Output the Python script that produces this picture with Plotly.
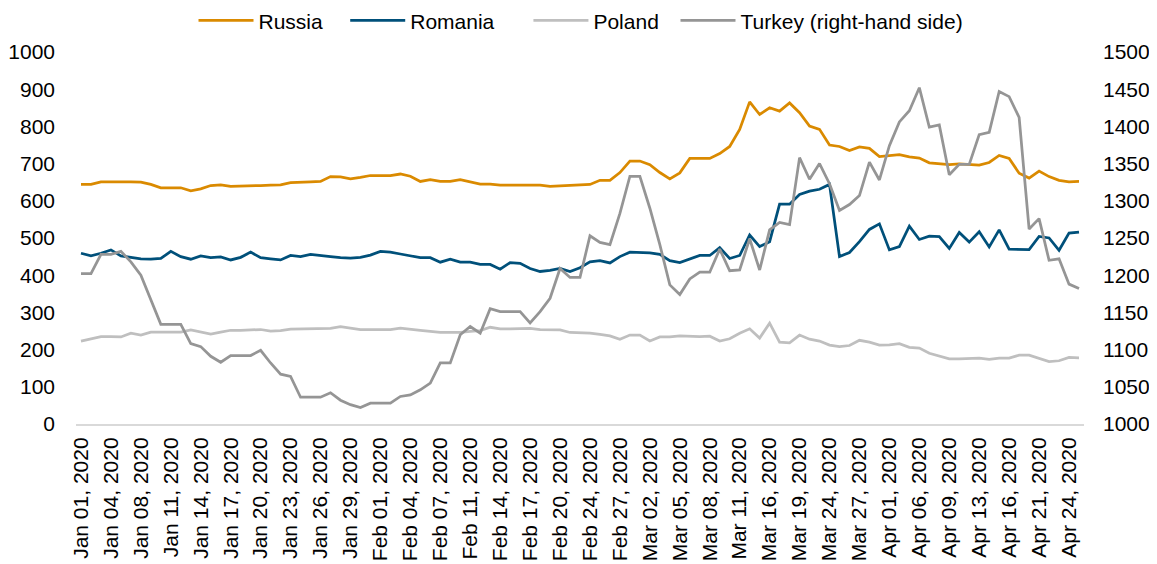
import plotly.graph_objects as go

# trading days shown on the category axis (every third one is labelled)
dates = [
    "Jan 01, 2020", "Jan 02, 2020", "Jan 03, 2020", "Jan 04, 2020", "Jan 06, 2020",
    "Jan 07, 2020", "Jan 08, 2020", "Jan 09, 2020", "Jan 10, 2020", "Jan 11, 2020",
    "Jan 12, 2020", "Jan 13, 2020", "Jan 14, 2020", "Jan 15, 2020", "Jan 16, 2020",
    "Jan 17, 2020", "Jan 18, 2020", "Jan 19, 2020", "Jan 20, 2020", "Jan 21, 2020",
    "Jan 22, 2020", "Jan 23, 2020", "Jan 24, 2020", "Jan 25, 2020", "Jan 26, 2020",
    "Jan 27, 2020", "Jan 28, 2020", "Jan 29, 2020", "Jan 30, 2020", "Jan 31, 2020",
    "Feb 01, 2020", "Feb 02, 2020", "Feb 03, 2020", "Feb 04, 2020", "Feb 05, 2020",
    "Feb 06, 2020", "Feb 07, 2020", "Feb 09, 2020", "Feb 10, 2020", "Feb 11, 2020",
    "Feb 12, 2020", "Feb 13, 2020", "Feb 14, 2020", "Feb 15, 2020", "Feb 16, 2020",
    "Feb 17, 2020", "Feb 18, 2020", "Feb 19, 2020", "Feb 20, 2020", "Feb 21, 2020",
    "Feb 23, 2020", "Feb 24, 2020", "Feb 25, 2020", "Feb 26, 2020", "Feb 27, 2020",
    "Feb 28, 2020", "Mar 01, 2020", "Mar 02, 2020", "Mar 03, 2020", "Mar 04, 2020",
    "Mar 05, 2020", "Mar 06, 2020", "Mar 07, 2020", "Mar 08, 2020", "Mar 09, 2020",
    "Mar 10, 2020", "Mar 11, 2020", "Mar 13, 2020", "Mar 15, 2020", "Mar 16, 2020",
    "Mar 17, 2020", "Mar 18, 2020", "Mar 19, 2020", "Mar 20, 2020", "Mar 23, 2020",
    "Mar 24, 2020", "Mar 25, 2020", "Mar 26, 2020", "Mar 27, 2020", "Mar 30, 2020",
    "Mar 31, 2020", "Apr 01, 2020", "Apr 02, 2020", "Apr 03, 2020", "Apr 06, 2020",
    "Apr 07, 2020", "Apr 08, 2020", "Apr 09, 2020", "Apr 10, 2020", "Apr 12, 2020",
    "Apr 13, 2020", "Apr 14, 2020", "Apr 15, 2020", "Apr 16, 2020", "Apr 17, 2020",
    "Apr 20, 2020", "Apr 21, 2020", "Apr 22, 2020", "Apr 23, 2020", "Apr 24, 2020",
    "Apr 27, 2020",
]

russia = [
    644, 644, 651, 651, 653, 651, 650, 644, 635, 635,
    635, 627, 632, 641, 643, 639, 639, 639, 641, 642,
    643, 649, 651, 651, 652, 665, 664, 659, 663, 668,
    668, 668, 672, 666, 652, 657, 652, 652, 657, 650,
    645, 645, 642, 642, 642, 641, 642, 639, 640, 642,
    641, 644, 655, 655, 676, 707, 707, 697, 676, 659,
    675, 714, 714, 714, 727, 746, 792, 866, 832, 850,
    841, 863, 837, 801, 792, 750, 746, 735, 745, 741,
    719, 722, 724, 718, 715, 702, 699, 697, 699, 698,
    696, 703, 722, 714, 674, 661, 680, 665, 655, 651,
    652,
]

romania = [
    459, 452, 459, 468, 452, 447, 444, 443, 445, 464,
    450, 443, 452, 447, 449, 441, 448, 462, 447, 444,
    441, 453, 450, 456, 454, 450, 447, 446, 448, 454,
    464, 462, 457, 452, 447, 447, 435, 443, 435, 435,
    429, 429, 416, 434, 432, 418, 410, 413, 418, 410,
    420, 436, 439, 433, 450, 462, 462, 460, 456, 439,
    434, 444, 453, 453, 474, 445, 453, 508, 477, 490,
    591, 591, 617, 626, 631, 644, 450, 461, 490, 523,
    538, 468, 477, 532, 496, 505, 504, 472, 515, 489,
    517, 476, 522, 470, 470, 469, 504, 500, 467, 513,
    516,
]

poland = [
    223, 228, 235, 235, 234, 244, 239, 247, 247, 247,
    247, 253, 247, 242, 247, 252, 252, 252, 254, 250,
    251, 255, 255, 255, 256, 257, 262, 258, 254, 254,
    254, 254, 258, 256, 252, 249, 246, 246, 246, 249,
    251, 260, 256, 256, 256, 257, 254, 254, 253, 246,
    246, 244, 241, 237, 228, 239, 239, 223, 234, 234,
    237, 235, 235, 236, 223, 229, 244, 256, 231, 271,
    220, 218, 239, 228, 223, 212, 208, 211, 225, 220,
    212, 213, 216, 206, 204, 190, 183, 175, 175, 175,
    177, 174, 177, 177, 185, 185, 177, 168, 170, 179,
    178,
]

# Turkey is read against the right-hand axis
turkey = [
    1202, 1202, 1228, 1228, 1232, 1218, 1200, 1168, 1134, 1134,
    1134, 1108, 1104, 1091, 1083, 1092, 1092, 1092, 1099, 1082,
    1067, 1064, 1036, 1036, 1036, 1042, 1032, 1026, 1022, 1028,
    1028, 1028, 1037, 1039, 1046, 1055, 1082, 1082, 1120, 1131,
    1122, 1155, 1151, 1151, 1151, 1136, 1151, 1169, 1209, 1197,
    1197, 1253, 1244, 1241, 1283, 1333, 1333, 1290, 1241, 1187,
    1174, 1195, 1204, 1204, 1235, 1206, 1207, 1249, 1207, 1261,
    1271, 1268, 1358, 1329, 1350, 1323, 1287, 1295, 1307, 1352,
    1328, 1374, 1406, 1421, 1452, 1399, 1402, 1335, 1349, 1349,
    1389, 1392, 1447, 1440, 1412, 1262, 1276, 1220, 1222, 1188,
    1182,
]

font = "Arial, Liberation Sans, sans-serif"
nb = "\u00a0"  # non-breaking spaces widen the gaps between legend entries

fig = go.Figure()

fig.add_trace(go.Scatter(x=dates, y=russia, mode="lines", name="Russia" + nb * 3,
                         line=dict(color="#DA8A00", width=2.75)))
fig.add_trace(go.Scatter(x=dates, y=romania, mode="lines", name="Romania" + nb * 5,
                         line=dict(color="#00507A", width=2.75)))
fig.add_trace(go.Scatter(x=dates, y=poland, mode="lines", name="Poland" + nb * 2,
                         line=dict(color="#BFBFBF", width=2.75)))
fig.add_trace(go.Scatter(x=dates, y=turkey, mode="lines", name="Turkey (right-hand side)",
                         line=dict(color="#959595", width=2.75), yaxis="y2"))

# the page body has an 8px margin, so the figure is 8px smaller than the window
fig.update_layout(
    width=1149,
    height=556,
    margin=dict(l=68, r=73, t=44, b=140, autoexpand=False),
    paper_bgcolor="white",
    plot_bgcolor="white",
    font=dict(family=font, size=21, color="#000000"),
    showlegend=True,
    legend=dict(
        orientation="h",
        x=0.501, xanchor="center",
        y=1.139, yanchor="top",
        font=dict(size=21),
        itemwidth=55,
        bgcolor="rgba(0,0,0,0)",
    ),
    xaxis=dict(
        type="category",
        range=[-0.5, len(dates) - 0.5],
        tickmode="array",
        tickvals=dates[::3],
        ticktext=dates[::3],
        tickangle=-90,
        showgrid=False,
        showline=True,
        linecolor="#D9D9D9",
        linewidth=2,
        ticks="",
        ticklabelstandoff=3,
        automargin=False,
    ),
    yaxis=dict(
        range=[0, 1000],
        tickvals=list(range(0, 1001, 100)),
        showgrid=False,
        zeroline=False,
        showline=False,
        ticks="",
        ticklabelstandoff=20,
        automargin=False,
    ),
    yaxis2=dict(
        range=[1000, 1500],
        tickvals=list(range(1000, 1501, 50)),
        overlaying="y",
        side="right",
        showgrid=False,
        zeroline=False,
        showline=False,
        ticks="",
        ticklabelstandoff=18,
        automargin=False,
    ),
)

fig.write_html("out.html")
